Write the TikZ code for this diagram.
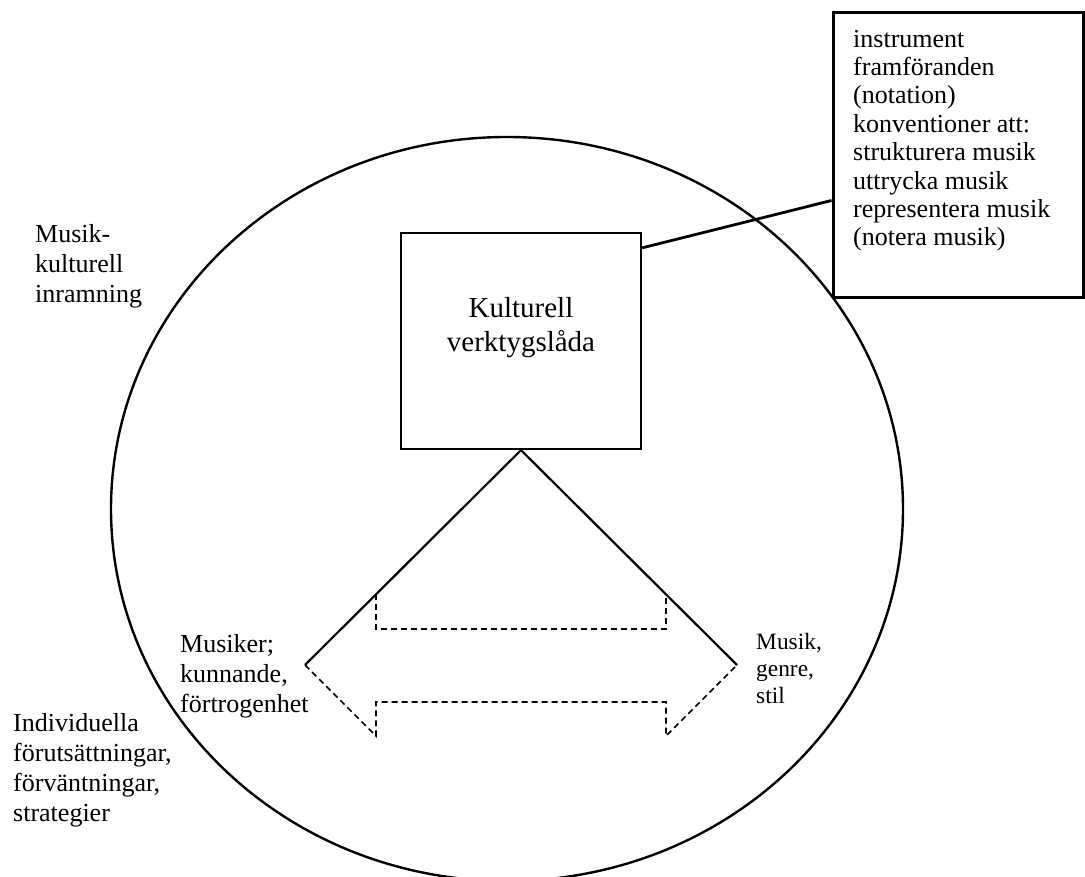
\documentclass[tikz,border=0pt]{standalone}
\usepackage{fontspec}
\setmainfont{Liberation Serif}
\usetikzlibrary{shapes.geometric}
\begin{document}
\begin{tikzpicture}[x=1pt,y=-1pt,
  frameline/.style={line width=2.4pt},
  boxline/.style={draw, line width=2.2pt, fill=white, inner sep=0pt},
  listline/.style={draw, line width=3pt, fill=white, inner sep=0pt},
  solidedge/.style={line width=2.2pt},
  dashedge/.style={line width=1.7pt, dash pattern=on 6pt off 4pt},
  lbl/.style={anchor=base west, inner sep=0pt, align=left},
  f26/.style={font=\fontsize{26}{30}\selectfont},
]
\useasboundingbox (0,0) rectangle (1085,877);
\fill[white] (0,0) rectangle (1085,877);

% framing ellipse
\node[ellipse, draw, frameline, minimum width=792pt, minimum height=744pt, inner sep=0pt] (frame) at (507,509) {};

% cultural toolbox
\node[boxline, minimum width=240pt, minimum height=216pt] (tool) at (521,341) {};
\node[anchor=base, inner sep=0pt, align=center, font=\fontsize{29}{34}\selectfont] (tooltext) at (521,352) {Kulturell\\verktygslåda};

% list box
\node[listline, minimum width=250pt, minimum height=285pt] (list) at (958,155.5) {};
\node[lbl, font=\fontsize{26}{28.4}\selectfont] (listtext) at (853,246) {instrument\\framföranden\\(notation)\\konventioner att:\\strukturera musik\\uttrycka musik\\representera musik\\(notera musik)};

% connector
\draw[line width=2.8pt] ([yshift=-16pt]tool.north east) -- ([yshift=-45pt]list.west);

% arrow / triangle
\coordinate (L) at (305,665);
\coordinate (R) at (737,665);
\coordinate (LT) at (376,594);
\coordinate (RT) at (666,594);
\coordinate (LB) at (376,736);
\coordinate (RB) at (666,736);
\coordinate (LS1) at (376,629);
\coordinate (RS1) at (666,629);
\coordinate (LS2) at (376,702);
\coordinate (RS2) at (666,702);
\draw[solidedge] (L) -- (tool.south) -- (R);
\draw[dashedge] (LT) -- (LS1) -- (RS1) -- (RT);
\draw[dashedge] (L) -- (LB) -- (LS2) -- (RS2) -- (RB) -- (R);

% labels
\node[lbl, f26] (frameLabel) at (35,303) {Musik-\\kulturell\\inramning};
\node[lbl, f26] (musiker) at (180,712) {Musiker;\\kunnande,\\förtrogenhet};
\node[lbl, f26] (indiv) at (13,821) {Individuella\\förutsättningar,\\förväntningar,\\strategier};
\node[lbl, font=\fontsize{23.4}{27}\selectfont] (musik) at (756,703) {Musik,\\genre,\\stil};
\end{tikzpicture}
\end{document}
